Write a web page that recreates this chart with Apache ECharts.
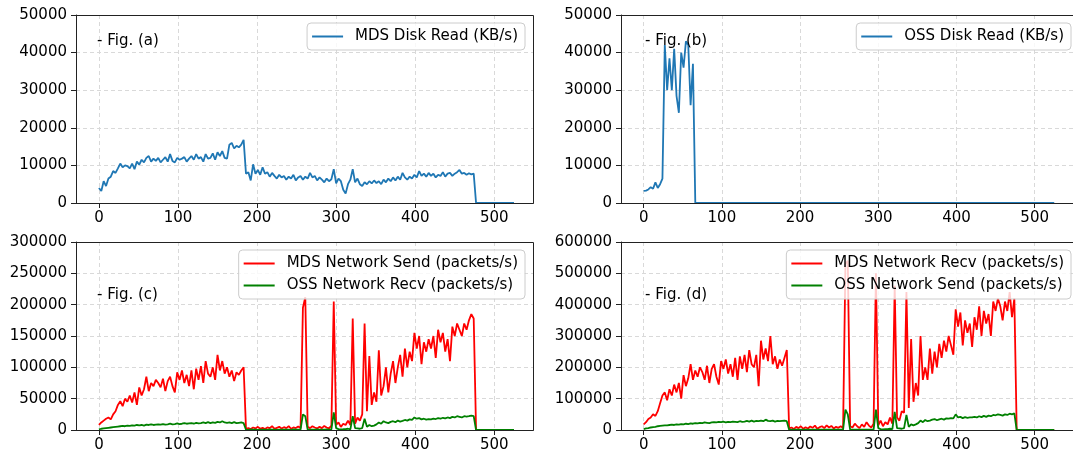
<!DOCTYPE html>
<html><head><meta charset="utf-8">
<script src="https://cdn.jsdelivr.net/npm/echarts@6/dist/echarts.min.js"></script>
<style>html,body{margin:0;padding:0;background:#fff}#c{width:1073px;height:456px}</style>
</head><body><div id="c"></div>
<script>
// sample interval (seconds) between consecutive readings
const STEP = 3;
const xTickValues = [0, 100, 200, 300, 400, 500];
const figLabels = ['- Fig. (a)', '- Fig. (b)', '- Fig. (c)', '- Fig. (d)'];

// (a) MDS Disk Read (KB/s)
const mdsDiskRead = [
 4000, 3200, 5800, 4500, 6500, 7000, 8500, 8000, 9200, 10500,
 9500, 10000, 9800, 9200, 10500, 9000, 11000, 10200, 11500, 10800,
 12000, 12500, 11000, 11800, 11200, 12000, 10800, 11500, 12200, 11000,
 13000, 11200, 10800, 12000, 11500, 11800, 12200, 11000, 11800, 12500,
 11500, 13000, 11800, 12200, 11000, 13000, 11800, 12000, 13200, 11500,
 13500, 12500, 13800, 12000, 11800, 15500, 16000, 14500, 15200, 14800,
 15500, 16800, 7800, 8200, 6000, 10300, 7800, 8800, 7500, 9500,
 7800, 8200, 7000, 8000, 7200, 6500, 7500, 6800, 7200, 6200,
 7000, 6500, 7500, 6000, 6800, 7200, 6200, 7000, 6500, 8000,
 6800, 7200, 6000, 6800, 6200, 5500, 6500, 5800, 6300, 9000,
 5200, 6500, 5800, 3500, 2500, 5000, 6200, 9000, 5500, 6500,
 5000, 4500, 5500, 5000, 5800, 5200, 6000, 5300, 5800, 5000,
 6200, 5500, 6500, 5800, 6800, 6000, 7000, 6200, 8000, 6800,
 6200, 7000, 6500, 7500, 6800, 8500, 7200, 7800, 7000, 8000,
 7200, 7800, 6800, 7500, 7200, 8200, 7000, 7800, 8000, 7200,
 7800, 8200, 8800, 7800, 8000, 7500, 7900, 7600, 7800, 0,
 0, 0, 0, 0, 0, 0, 0, 0, 0, 0,
 0, 0, 0, 0, 0, 0
];

// (b) OSS Disk Read (KB/s)
const ossDiskRead = [
 3200, 3300, 3600, 4200, 3800, 5500, 4000, 5000, 6500, 42000,
 30000, 38500, 30000, 41000, 28500, 24000, 40000, 36000, 43000, 42000,
 26000, 37000, 0, 0, 0, 0, 0, 0, 0, 0,
 0, 0, 0, 0, 0, 0, 0, 0, 0, 0,
 0, 0, 0, 0, 0, 0, 0, 0, 0, 0,
 0, 0, 0, 0, 0, 0, 0, 0, 0, 0,
 0, 0, 0, 0, 0, 0, 0, 0, 0, 0,
 0, 0, 0, 0, 0, 0, 0, 0, 0, 0,
 0, 0, 0, 0, 0, 0, 0, 0, 0, 0,
 0, 0, 0, 0, 0, 0, 0, 0, 0, 0,
 0, 0, 0, 0, 0, 0, 0, 0, 0, 0,
 0, 0, 0, 0, 0, 0, 0, 0, 0, 0,
 0, 0, 0, 0, 0, 0, 0, 0, 0, 0,
 0, 0, 0, 0, 0, 0, 0, 0, 0, 0,
 0, 0, 0, 0, 0, 0, 0, 0, 0, 0,
 0, 0, 0, 0, 0, 0, 0, 0, 0, 0,
 0, 0, 0, 0, 0, 0, 0, 0, 0, 0,
 0, 0, 0, 0, 0, 0
];

// (c) MDS Network Send (packets/s)
const mdsNetSend = [
 8000, 12000, 15000, 18000, 20000, 17000, 25000, 30000, 40000, 46000,
 38000, 50000, 45000, 55000, 44000, 60000, 40000, 68000, 55000, 65000,
 85000, 62000, 75000, 70000, 80000, 75000, 68000, 82000, 62000, 78000,
 85000, 70000, 60000, 92000, 80000, 95000, 75000, 88000, 70000, 95000,
 65000, 98000, 80000, 102000, 75000, 110000, 90000, 85000, 100000, 80000,
 120000, 95000, 110000, 90000, 100000, 85000, 95000, 78000, 92000, 88000,
 95000, 100000, 2000, 3000, 1500, 4000, 2500, 5000, 2000, 3500,
 1500, 4000, 3000, 6000, 2000, 3500, 5000, 2500, 4500, 3000,
 6000, 2000, 4000, 3000, 5500, 3000, 195000, 212000, 5000, 3000,
 6000, 4000, 2500, 5000, 3000, 6500, 4000, 2500, 7000, 205000,
 8000, 12000, 5000, 10000, 8000, 15000, 8000, 178000, 10000, 20000,
 15000, 25000, 170000, 30000, 118000, 40000, 60000, 45000, 127000, 55000,
 70000, 100000, 60000, 90000, 110000, 75000, 100000, 120000, 85000, 130000,
 100000, 125000, 110000, 155000, 130000, 150000, 105000, 140000, 125000, 145000,
 130000, 150000, 115000, 160000, 140000, 155000, 125000, 145000, 110000, 165000,
 150000, 170000, 160000, 150000, 170000, 160000, 175000, 185000, 178000, 0,
 0, 0, 0, 0, 0, 0, 0, 0, 0, 0,
 0, 0, 0, 0, 0, 0
];

// (c) OSS Network Recv (packets/s)
const ossNetRecv = [
 1000, 2000, 2500, 3000, 3500, 4000, 4500, 5000, 5500, 6000,
 6500, 6000, 7000, 6500, 7500, 7000, 8000, 7500, 8000, 7000,
 8500, 8000, 9000, 8000, 8500, 9000, 8500, 9500, 8500, 9000,
 10000, 9000, 9500, 10500, 9500, 10000, 11000, 10000, 10500, 11000,
 10000, 11500, 10500, 11000, 12000, 11000, 12500, 11000, 12000, 11500,
 13000, 12000, 14000, 12000, 11500, 12000, 11000, 12500, 11000, 11500,
 12000, 11000, 500, 300, 800, 400, 600, 300, 700, 400,
 500, 300, 800, 400, 600, 300, 500, 700, 400, 600,
 500, 300, 800, 400, 700, 500, 25000, 22000, 800, 500,
 600, 400, 800, 500, 700, 400, 900, 500, 800, 28000,
 3000, 1500, 1000, 1200, 1500, 2000, 1000, 22000, 3000, 2500,
 2000, 3000, 18000, 5000, 8000, 6000, 7000, 9000, 12000, 10000,
 14000, 12000, 11000, 13000, 14000, 12500, 15000, 13500, 14500, 16000,
 15000, 17000, 16000, 20000, 18000, 19000, 17000, 18000, 16500, 17500,
 17000, 18000, 17500, 19000, 18000, 19500, 18500, 20000, 19000, 21000,
 20000, 22000, 21000, 20000, 22000, 21500, 22000, 23000, 22000, 0,
 0, 0, 0, 0, 0, 0, 0, 0, 0, 0,
 0, 0, 0, 0, 0, 0
];

// (d) MDS Network Recv (packets/s)
const mdsNetRecv = [
 18000, 25000, 35000, 40000, 50000, 45000, 60000, 85000, 110000, 120000,
 95000, 130000, 110000, 145000, 120000, 150000, 100000, 175000, 140000, 165000,
 210000, 160000, 190000, 170000, 200000, 185000, 160000, 205000, 150000, 195000,
 210000, 170000, 145000, 220000, 195000, 225000, 180000, 210000, 170000, 230000,
 160000, 235000, 195000, 240000, 185000, 255000, 210000, 200000, 240000, 140000,
 285000, 225000, 260000, 220000, 300000, 210000, 235000, 195000, 225000, 205000,
 230000, 255000, 5000, 8000, 3000, 10000, 6000, 12000, 4000, 9000,
 5000, 11000, 7000, 14000, 4000, 9000, 12000, 6000, 15000, 8000,
 13000, 5000, 10000, 7000, 12000, 6000, 530000, 540000, 12000, 8000,
 20000, 12000, 6000, 18000, 10000, 25000, 14000, 8000, 20000, 500000,
 15000, 30000, 12000, 25000, 18000, 40000, 20000, 460000, 40000, 30000,
 60000, 55000, 440000, 70000, 290000, 90000, 150000, 110000, 300000, 160000,
 200000, 160000, 260000, 180000, 250000, 200000, 275000, 230000, 285000, 250000,
 300000, 270000, 240000, 385000, 330000, 375000, 270000, 350000, 310000, 340000,
 265000, 360000, 320000, 395000, 300000, 380000, 340000, 370000, 300000, 410000,
 380000, 420000, 395000, 350000, 410000, 380000, 440000, 360000, 420000, 0,
 0, 0, 0, 0, 0, 0, 0, 0, 0, 0,
 0, 0, 0, 0, 0, 0
];

// (d) OSS Network Send (packets/s)
const ossNetSend = [
 3000, 5000, 6000, 8000, 9000, 10000, 12000, 13000, 14000, 15000,
 15000, 16000, 17000, 16000, 18000, 17000, 19000, 18000, 20000, 19000,
 21000, 20000, 22000, 21000, 23000, 22000, 24000, 23000, 22000, 24000,
 25000, 24000, 26000, 25000, 27000, 24000, 26000, 25000, 27000, 26000,
 25000, 28000, 26000, 27000, 29000, 27000, 30000, 27000, 29000, 28000,
 30000, 28000, 33000, 29000, 28000, 30000, 27000, 29000, 28000, 29000,
 30000, 28000, 1000, 800, 1500, 1000, 1200, 800, 1500, 1000,
 1200, 800, 1500, 1000, 1200, 800, 1300, 1500, 1000, 1200,
 1000, 800, 1500, 1000, 1300, 1200, 65000, 50000, 1500, 1000,
 1200, 1000, 1500, 1200, 1300, 1000, 1500, 1200, 1500, 65000,
 6000, 3000, 2000, 2500, 3000, 4000, 2500, 58000, 6000, 5000,
 4000, 6000, 48000, 10000, 18000, 15000, 18000, 22000, 30000, 25000,
 32000, 28000, 30000, 33000, 35000, 31000, 34000, 36000, 33000, 37000,
 36000, 38000, 37000, 50000, 40000, 42000, 38000, 41000, 39000, 40000,
 40000, 42000, 40000, 44000, 41000, 45000, 42000, 46000, 44000, 48000,
 47000, 50000, 48000, 46000, 50000, 48000, 52000, 50000, 53000, 0,
 0, 0, 0, 0, 0, 0, 0, 0, 0, 0,
 0, 0, 0, 0, 0, 0
];

const FONT = 'DejaVu Sans';
const FS = 15;
const toPairs = arr => arr.map((v, i) => [i * STEP, v]);

const grids = [
  {left: 76, top: 15, width: 457, height: 188},
  {left: 621, top: 15, width: 457, height: 188},
  {left: 76, top: 242, width: 457, height: 188},
  {left: 621, top: 242, width: 457, height: 188}
];
const yMax = [50000, 50000, 300000, 600000];
const yInt = [10000, 10000, 50000, 100000];

const splitLine = {show: true, lineStyle: {color: '#d9d9d9', width: 1, type: [4, 3]}};

const xAxes = grids.map((g, i) => ({
  type: 'value', gridIndex: i, min: -29, max: 549,
  axisLine: {show: true, onZero: false, lineStyle: {color: '#222', width: 1}},
  axisTick: {show: true, length: 5, lineStyle: {color: '#222'}, customValues: xTickValues},
  axisLabel: {color: '#000', fontFamily: FONT, fontSize: FS, margin: 8, customValues: xTickValues,
              formatter: v => String(v)},
  splitLine: splitLine
}));
const yAxes = grids.map((g, i) => ({
  type: 'value', gridIndex: i, min: 0, max: yMax[i], interval: yInt[i],
  axisLine: {show: true, onZero: false, lineStyle: {color: '#222', width: 1}},
  axisTick: {show: true, length: 5, lineStyle: {color: '#222'}},
  axisLabel: {color: '#000', fontFamily: FONT, fontSize: FS, margin: 9, formatter: v => String(v)},
  splitLine: splitLine
}));

function line(name, data, color, idx) {
  return {
    name: name, type: 'line', data: toPairs(data), xAxisIndex: idx, yAxisIndex: idx,
    symbol: 'none', showSymbol: false, animation: false,
    lineStyle: {color: color, width: 1.8}, itemStyle: {color: color}
  };
}

const BLUE = '#1f77b4', RED = '#ff0000', GREEN = '#008000';
const series = [
  line('MDS Disk Read (KB/s)', mdsDiskRead, BLUE, 0),
  line('OSS Disk Read (KB/s)', ossDiskRead, BLUE, 1),
  line('MDS Network Send (packets/s)', mdsNetSend, RED, 2),
  line('OSS Network Recv (packets/s)', ossNetRecv, GREEN, 2),
  line('MDS Network Recv (packets/s)', mdsNetRecv, RED, 3),
  line('OSS Network Send (packets/s)', ossNetSend, GREEN, 3)
];

function legend(names, top, right) {
  return {
    data: names.map(n => ({name: n, icon: 'rect'})), top: top, right: right, orient: 'vertical',
    padding: [5, 7, 5, 5], itemGap: 5, itemWidth: 31, itemHeight: 2,
    backgroundColor: 'rgba(255,255,255,0.8)', borderColor: '#cccccc', borderWidth: 1, borderRadius: 4,
    textStyle: {color: '#000', fontFamily: FONT, fontSize: FS, padding: [0, 0, 0, 7], lineHeight: 17},
    selectedMode: false
  };
}

const legends = [
  legend(['MDS Disk Read (KB/s)'], 23, 1073 - 525),
  legend(['OSS Disk Read (KB/s)'], 23, 2),
  legend(['MDS Network Send (packets/s)', 'OSS Network Recv (packets/s)'], 250, 1073 - 525),
  legend(['MDS Network Recv (packets/s)', 'OSS Network Send (packets/s)'], 250, 2)
];

const figPos = [[97, 34], [645, 34], [97, 288], [645, 288]];
const graphics = figLabels.map((t, i) => ({
  type: 'text', left: figPos[i][0], top: figPos[i][1], z: 10,
  style: {text: t, font: FS + 'px "DejaVu Sans"', fill: '#000'}
})).concat(grids.map(g => ({
  type: 'rect', z: 50, silent: true,
  shape: {x: g.left + 0.5, y: g.top + 0.5, width: g.width, height: g.height},
  style: {fill: 'none', stroke: '#222', lineWidth: 1}
})));

const chart = echarts.init(document.getElementById('c'), null, {renderer: 'canvas'});
chart.setOption({
  backgroundColor: '#fff',
  animation: false,
  grid: grids,
  xAxis: xAxes,
  yAxis: yAxes,
  legend: legends,
  graphic: graphics,
  series: series
});
</script>
</body></html>
